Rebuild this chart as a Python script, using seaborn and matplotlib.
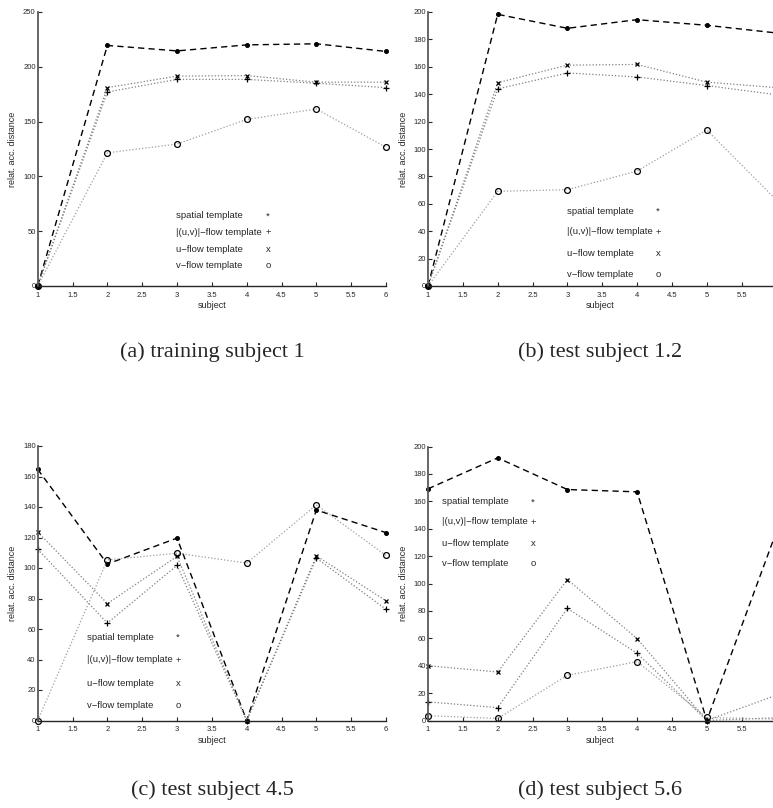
import matplotlib
matplotlib.use("Agg")
import matplotlib.pyplot as plt
from matplotlib.ticker import MultipleLocator, FormatStrFormatter
import pandas as pd
import seaborn as sns

subjects = [1, 2, 3, 4, 5, 6]

# (a) training subject 1
a_spatial = [0, 219.5, 214.5, 220, 221, 214]
a_absflow = [0, 177, 188.5, 188.5, 185, 181]
a_uflow = [0, 181, 191.5, 192, 186, 186]
a_vflow = [0, 121.5, 129.5, 152, 161.5, 126.5]

# (b) test subject 1.2
b_spatial = [0, 198.3, 188.1, 194.4, 190.3, 184.7]
b_absflow = [0, 143.9, 155.5, 152.6, 146.3, 139.6]
b_uflow = [0, 148.4, 161.2, 161.7, 148.8, 144.8]
b_vflow = [0, 69.1, 70.3, 83.9, 113.9, 62.7]

# (c) test subject 4.5
c_spatial = [164.7, 102.6, 119.6, 0, 138, 123.2]
c_absflow = [112.3, 63.9, 101.7, 0, 106.5, 72.9]
c_uflow = [123.6, 76.7, 107.6, 0, 108, 78.5]
c_vflow = [0, 105.3, 109.7, 103.2, 141.4, 108.2]

# (d) test subject 5.6
d_spatial = [169.1, 191.7, 168.6, 166.9, 0, 138]
d_absflow = [13.6, 9.4, 81.8, 49.1, 0, 2]
d_uflow = [40, 35.4, 102.9, 59.8, 0, 18.5]
d_vflow = [3.5, 1.5, 33, 43, 2.2, 1]

captions = ["(a) training subject 1", "(b) test subject 1.2",
            "(c) test subject 4.5", "(d) test subject 5.6"]
legend_names = ["spatial template", "|(u,v)|\u2212flow template",
                "u\u2212flow template", "v\u2212flow template"]
legend_syms = ["*", "+", "x", "o"]

sns.set_style("ticks")
plt.rcParams["font.family"] = ["Liberation Sans", "DejaVu Sans"]

W, H = 773, 808
fig = plt.figure(figsize=(W / 100, H / 100), dpi=100)


def px_axes(left, right, top, bottom):
    return fig.add_axes([left / W, 1 - bottom / H, (right - left) / W, (bottom - top) / H])


panels = [
    dict(data=[a_spatial, a_absflow, a_uflow, a_vflow], box=(37.7, 386, 12, 286),
         ymax=250, ystep=50, xmax=6, leg=(176, 268, [216, 233, 249, 266]),
         cap=(212, 352)),
    dict(data=[b_spatial, b_absflow, b_uflow, b_vflow], box=(428, 773, 12, 286),
         ymax=200, ystep=20, xmax=5.95, leg=(567, 658, [211, 232, 253, 274]),
         cap=(600, 352)),
    dict(data=[c_spatial, c_absflow, c_uflow, c_vflow], box=(37.7, 386, 446, 720.5),
         ymax=180, ystep=20, xmax=6, leg=(87, 178, [637, 660, 683, 706]),
         cap=(212, 790)),
    dict(data=[d_spatial, d_absflow, d_uflow, d_vflow], box=(428, 773, 446.5, 720.5),
         ymax=200, ystep=20, xmax=5.95, leg=(442, 533, [502, 522, 543, 563]),
         cap=(600, 790)),
]

styles = [
    dict(color="black", linestyle=(0, (4.5, 3)), linewidth=1.0, marker="o", markersize=2.8,
         markerfacecolor="black", markeredgecolor="black"),
    dict(color="0.5", linestyle=(0, (1, 1.6)), linewidth=0.9, marker="+", markersize=4.5,
         markeredgecolor="black", markeredgewidth=0.9),
    dict(color="0.5", linestyle=(0, (1, 1.6)), linewidth=0.9, marker="x", markersize=3.2,
         markeredgecolor="black", markeredgewidth=0.9),
    dict(color="0.62", linestyle=(0, (1, 1.6)), linewidth=0.9, marker="o", markersize=4.2,
         markerfacecolor="none", markeredgecolor="black", markeredgewidth=0.9),
]

for p, cap in zip(panels, captions):
    ax = px_axes(*p["box"])
    for series, st in zip(p["data"], styles):
        df = pd.DataFrame({"subject": subjects, "dist": series})
        sns.lineplot(data=df, x="subject", y="dist", ax=ax, clip_on=False, **st)
    ax.set_xlim(1, p["xmax"])
    ax.set_ylim(0, p["ymax"])
    ax.xaxis.set_major_locator(MultipleLocator(0.5))
    ax.yaxis.set_major_locator(MultipleLocator(p["ystep"]))
    ax.xaxis.set_major_formatter(FormatStrFormatter("%g"))
    ax.yaxis.set_major_formatter(FormatStrFormatter("%g"))
    ax.tick_params(direction="in", length=3, width=0.8, labelsize=5.5)
    ax.tick_params(axis="x", pad=4)
    ax.tick_params(axis="y", pad=1.5)
    sns.despine(ax=ax)
    ax.spines["left"].set_linewidth(1.3)
    ax.spines["left"].set_color("0.35")
    ax.spines["bottom"].set_linewidth(1.0)
    ax.set_xlabel("subject", fontsize=6.5, labelpad=2)
    ax.set_ylabel("relat. acc. distance", fontsize=6.5, labelpad=4)

    tx, sx, rows = p["leg"]
    for name, sym, ry in zip(legend_names, legend_syms, rows):
        fig.text(tx / W, 1 - ry / H, name, fontsize=6.8, va="center", ha="left")
        fig.text(sx / W, 1 - ry / H, sym, fontsize=6.8, va="center", ha="center")

    cx, cy = p["cap"]
    fig.text(cx / W, 1 - cy / H, cap, fontsize=16, ha="center", va="center",
             family=["Liberation Serif", "DejaVu Serif"])

fig.savefig("out.png", dpi=100)
